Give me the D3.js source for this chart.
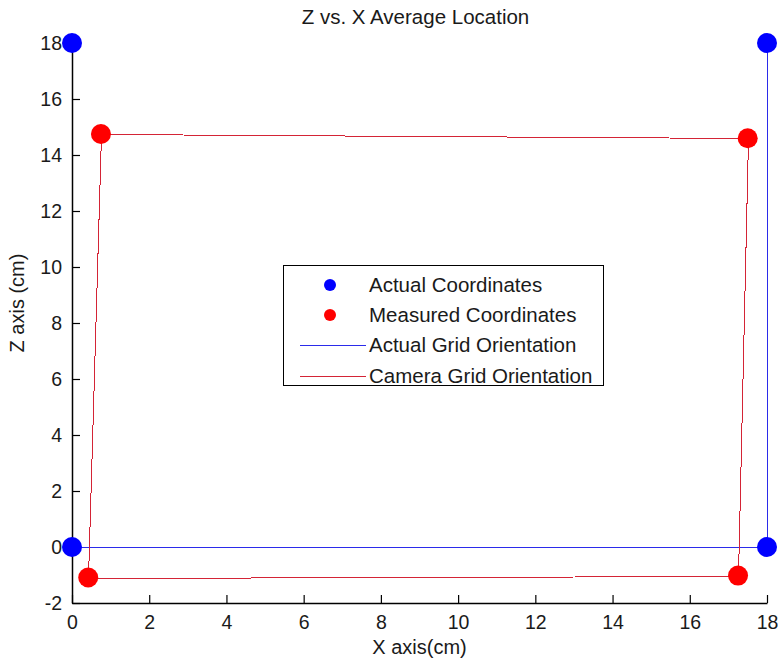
<!DOCTYPE html>
<html>
<head>
<meta charset="utf-8">
<script src="https://cdn.jsdelivr.net/npm/d3@7"></script>
<style>
  html, body { margin: 0; padding: 0; background: #fff; }
  text { font-family: "Liberation Sans", Arial, Helvetica, sans-serif; fill: #1a1a1a; }
</style>
</head>
<body>
<svg id="chart" width="778" height="662"></svg>
<script>
// ---- data ----
const actualX = [0, 0, 18, 18];
const actualZ = [18, 0, 0, 18];
const measuredX = [0.75, 17.50, 17.25, 0.42, 0.75];
const measuredZ = [14.75, 14.60, -1.02, -1.09, 14.75];
const xTicks = [0, 2, 4, 6, 8, 10, 12, 14, 16, 18];
const zTicks = [-2, 0, 2, 4, 6, 8, 10, 12, 14, 16, 18];
const legendLabels = ["Actual Coordinates", "Measured Coordinates", "Actual Grid Orientation", "Camera Grid Orientation"];
const titleText = "Z vs. X Average Location";
const xLabel = "X axis(cm)";
const zLabel = "Z axis (cm)";

// ---- layout ----
const svg = d3.select("#chart");
const pLeft = 72, pRight = 767, pTop = 43, pBottom = 603;
const x = d3.scaleLinear().domain([0, 18]).range([pLeft, pRight]);
const y = d3.scaleLinear().domain([-2, 18]).range([pBottom, pTop]);

const blueLine = "#2b2bea", redLine = "#d42436";
const blueDot = "#0000ff", redDot = "#ff0000";
const fs = 19.5;

const actual = actualX.map((v, i) => [v, actualZ[i]]);
const measured = measuredX.map((v, i) => [v, measuredZ[i]]);
const line = d3.line().x(d => Math.round(x(d[0])) + 0.5).y(d => Math.round(y(d[1])) + 0.5);

// lines
svg.append("path").attr("d", line(actual)).attr("fill", "none")
  .attr("stroke", blueLine).attr("stroke-width", 1).attr("shape-rendering", "crispEdges");
svg.append("path").attr("d", line(measured)).attr("fill", "none")
  .attr("stroke", redLine).attr("stroke-width", 1).attr("shape-rendering", "crispEdges");

// axes (ticks inward)
const fmt = d => String(d);
const xAxis = d3.axisBottom(x).tickValues(xTicks).tickFormat(fmt).tickSizeInner(-8).tickSizeOuter(0).tickPadding(12);
const yAxis = d3.axisLeft(y).tickValues(zTicks).tickFormat(fmt).tickSizeInner(-8).tickSizeOuter(0).tickPadding(14);
const gx = svg.append("g").attr("transform", `translate(0,${pBottom})`).call(xAxis);
const gy = svg.append("g").attr("transform", `translate(${pLeft},0)`).call(yAxis);
[gx, gy].forEach(g => {
  g.select(".domain").attr("stroke", "#000").attr("stroke-width", 1.5);
  g.selectAll(".tick line").attr("stroke", "#000").attr("stroke-width", 1.2);
  g.selectAll(".tick text").style("font-size", fs + "px")
    .style("font-family", "'Liberation Sans', Arial, sans-serif").attr("fill", "#1a1a1a");
});
gy.selectAll(".tick text").attr("dx", "4");

// markers (on top of axis)
svg.append("g").selectAll("circle.a").data(actual).join("circle")
  .attr("cx", d => x(d[0])).attr("cy", d => y(d[1])).attr("r", 10).attr("fill", blueDot);
svg.append("g").selectAll("circle.m").data(measured.slice(0, 4)).join("circle")
  .attr("cx", d => x(d[0])).attr("cy", d => y(d[1])).attr("r", 10).attr("fill", redDot);

// title & labels
svg.append("text").attr("x", (pLeft + pRight) / 2 - 4).attr("y", 24).attr("text-anchor", "middle")
  .style("font-size", "20.5px").text(titleText);
svg.append("text").attr("x", (pLeft + pRight) / 2).attr("y", 654).attr("text-anchor", "middle")
  .style("font-size", "20px").text(xLabel);
svg.append("text").attr("transform", `translate(24,${(pTop + pBottom) / 2 - 20}) rotate(-90)`)
  .attr("text-anchor", "middle").style("font-size", "20px").text(zLabel);

// legend
const lg = svg.append("g");
lg.append("rect").attr("x", 283.5).attr("y", 265.5).attr("width", 320).attr("height", 120)
  .attr("fill", "#fff").attr("stroke", "#000").attr("stroke-width", 1);
const rows = [285, 315, 345, 376];
lg.append("circle").attr("cx", 330).attr("cy", rows[0]).attr("r", 6).attr("fill", blueDot);
lg.append("circle").attr("cx", 330).attr("cy", rows[1]).attr("r", 6).attr("fill", redDot);
lg.append("line").attr("x1", 300).attr("x2", 366).attr("y1", rows[2] + 0.5).attr("y2", rows[2] + 0.5)
  .attr("stroke", blueLine).attr("stroke-width", 1).attr("shape-rendering", "crispEdges");
lg.append("line").attr("x1", 300).attr("x2", 366).attr("y1", rows[3] + 0.5).attr("y2", rows[3] + 0.5)
  .attr("stroke", redLine).attr("stroke-width", 1).attr("shape-rendering", "crispEdges");
legendLabels.forEach((t, i) => {
  lg.append("text").attr("x", 369).attr("y", rows[i]).attr("dy", "0.35em")
    .style("font-size", "20.5px").text(t);
});
</script>
</body>
</html>
